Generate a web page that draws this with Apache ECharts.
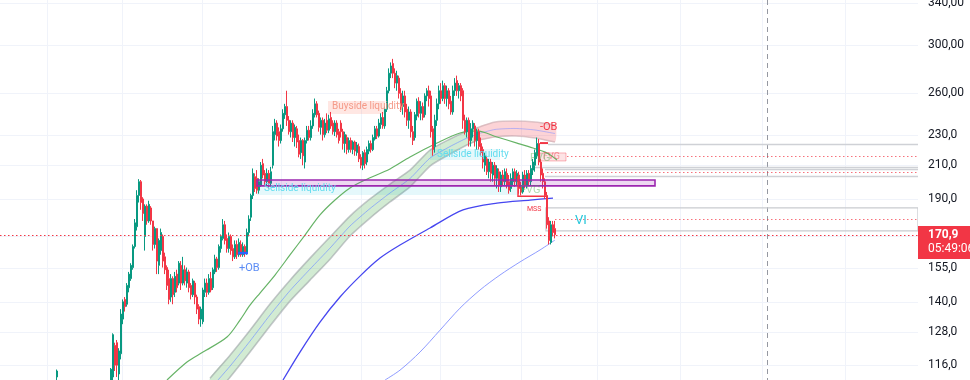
<!DOCTYPE html>
<html><head><meta charset="utf-8">
<script src="https://cdn.jsdelivr.net/npm/echarts@6/dist/echarts.min.js"></script>
<style>html,body{margin:0;padding:0;background:#fff}#c{width:970px;height:380px}</style>
</head><body><div id="c"></div>
<script>
// ---------- DATA ----------
const slots = 459;        // bar slots across the plot
const firstBar = 28;      // slot of the first bar
// [open, close, low, high]
const bars = [
[112,114,110,114.5],
[110,108,106,111],[108,106,104,109],[106,107,104,109],[107,105,103,108],[105,103,101,106],[103,104,101,106],[104,102,100,105],[102,100,98,103],[100,101,98,103],[101,99,97,102],[99,100,97,102],[100,102,99,103],[102,101,99,104],[101,103,100,104],[103,102,100,105],[102,104,101,106],[104,103,101,106],[103,105,102,107],[105,104,102,107],[104,106,103,108],[106,105,103,108],[105,107,104,109],[107,106,104,109],[106,108,105,110],[108,107,105,110],[107,109,106,111],
[111,114.6,110,115],[112,127,110,127.5],[123,116,114,124],[124,116,112,125],[113,121,111,122],[120,135,118,137],[133,140,131,141],[141,138,136,142],[139,147,138,148],[146,152,144,153],
[150,156,149,157],[155,165,154,166],[165,177,164,179],[175,192,173,195],[192,200,188,201.5],[200,188,184,201],[190,182,178,191],[170,186,163,187],[186,178,176,187],[178,187,177,189],
[185,178,176,186],[178,166,163,178],[166,174,164,175],[174,158,152,174],[156,168,152,169],[163,172,161,174],[170,158,155,171],[160,154,152,162],[155,147,145,156],[150,141,139,154],
[142,150,140,152],[150,143,139,151],[144,151,142,153],[152,146,144,154],[148,157,147,158],[156,148,145,158],[148,154,147,160],[154,149,147,156],[148,153,146,155],[153,146,144,154],
[147,143,141,148],[143,149,142,150],[148,142,139,149],[142,137,135,143],[138,133,131,139],[133,137,130,138],[132,145,131,146],[144,148,142,150],[148,144,142,150],[144,150,143,152],
[150,145,144,153],[146,154,145,155],[153,159,152,161],[159,155,153,160],[155,165,154,166],[164,170,162,171],[169,176,168,179],[176,168,166,178],[169,164,162,171],[164,170,162,172],
[170,163,161,171],[164,160,158,166],[160,166,159,168],[166,161,159,168],[161,167,160,169],[166,161,160,168],[161,165,160,167],[165,162,160,166],[162,172,161,174],[172,179,170,181],
[180,192,178,193],[192,205,190,208],[203,196,194,205],[202,195,193,207],[195,200,193,202],[198,210,197,212],[211,204,202,214],[205,200,198,207],[200,205,198,208],[205,199,196,207],
[199,206,197,209],[210,232,208,236],[230,238,226,241],[238,229,226,240],[232,226,222,235],[226,234,224,237],[234,245,232,248],[244,250,241,252],[250,240,236,262],[240,232,230,243],
[232,238,228,240],[238,228,225,240],[228,235,222,237],[234,225,221,236],[226,217,215,230],[218,226,214,228],[226,216,210,227],[212,226,208,228],[226,233,224,236],[233,228,226,236],
[228,236,226,240],[236,245,234,248],[244,252,242,256],[252,244,242,254],[245,235,232,247],[235,240,230,242],[240,230,226,242],[230,238,228,241],[240,233,231,245],[233,241,231,244],
[242,236,234,246],[238,232,230,240],[232,238,229,240],[238,230,228,240],[232,226,224,234],[238,232,228,240],[232,224,220,234],[224,230,218,232],[228,220,217,230],[220,226,218,228],
[226,220,218,228],[220,225,217,226],[225,219,216,226],[218,223,216,225],[222,214,212,224],[215,210,208,217],[210,218,207,219],[218,211,208,220],[212,220,210,222],[219,224,217,226],
[224,220,218,226],[220,228,219,230],[227,234,226,236],[234,229,227,236],[229,238,228,241],[237,242,234,245],[242,236,234,246],[236,248,234,250],[248,262,246,265],[262,276,260,280],
[276,282,272,285],[284,276,272,288],[276,268,264,280],[268,274,262,278],[272,260,256,274],[260,250,246,264],[250,258,244,262],[258,246,242,262],[248,240,236,252],[240,246,234,250],
[246,232,228,248],[232,226,223,236],[228,244,226,246],[243,254,240,256],[254,245,242,257],[245,250,240,254],[250,242,240,253],[244,258,242,260],[258,262,254,264],[262,256,250,266],
[258,232,228,262],[234,220,216,236],[222,240,218,244],[240,252,236,256],[252,262,248,266],[262,256,252,268],[256,266,254,270],[266,256,252,268],[256,262,250,266],[262,252,248,264],
[254,246,244,258],[246,262,244,266],[262,268,258,272],[270,262,258,274],[262,266,256,268],[266,258,254,268],[262,240,234,264],[240,232,230,244],[232,240,228,242],[240,226,222,242],
[226,234,222,238],[234,238,228,240],[236,226,222,238],[226,232,220,234],[232,222,220,234],[224,218,216,228],[220,212,208,222],[210,216,206,218],[214,206,204,216],[206,212,202,214],
[212,205,200,214],[204,210,200,212],[210,202,198,212],[202,208,196,210],[206,198,194,208],[197,204,194,206],[204,200,198,207],[200,206,198,208],[205,198,196,208],[200,195,193,204],
[196,202,194,205],[200,206,198,208],[206,200,197,208],[200,205,198,207],[204,196,193,206],[197,194,192,200],[194,204,193,206],[204,198,196,207],[198,205,196,207],[205,200,198,207],
[200,208,198,210],[207,212,204,214],[210,218,206,220],[216,224,214,228],[224,212,210,227],[212,204,200,214],[205,200,196,208],[200,192,190,202],[192,176,174,194],[178,168,166,180],
[167,176,166,178],[176,172,170,178],[174,170.9,169,178]
];
const lastPrice = 170.9;
const countdown = '05:49:06';

const yTicks = [340,300,260,230,210,190,170,155,140,128,116];
const yTickLabels = ['340,00','300,00','260,00','230,0','210,0','190,0','','155,0','140,0','128,0','116,0'];
const timeGrid = [23.5,61,101,140.5,180.5,220,260.5,298.5,340,381,422.5];

// indicator lines: [slot, price]
const maGreen = [[83.5,111],[93.5,117.1],[101.5,120.6],[113.5,126.1],[120,132.6],[125,138.6],[130,143.7],[137.5,151.6],[145,160.9],[152.5,170.7],[160,181.2],[167.5,189.4],[175,196.3],[182.5,201],[195,207.7],[205,215.2],[218.5,224.3],[230,231.1],[238.5,232.5],[248.5,228.4],[258.5,224.3],[266.5,221],[273.5,217.8],[278.5,213.3]];
const maBlue = [[141.5,111],[150,120.6],[160,131.8],[170,142],[180,151.1],[190,159.4],[200,165.7],[215,174.3],[231.5,183.9],[248.5,187.7],[265,189.4],[276.5,190.5]];
const maLightBlue = [[192.5,111],[200,114.3],[210,120.6],[220,128.7],[230,137.4],[240,145],[250,151.6],[260,157.6],[270,163.3],[277.5,168.2]];

// ribbon (bull part) and -OB (bear part): slot, upper, lower
const ribbonSlot = [105,115,125,135,145,155,165,175,185,195,205,215,225,232.5,239];
const ribbonUp   = [111.6,119.5,128.7,139.1,149.3,159.4,169.7,180.6,190.0,198.6,207.0,219.7,227.0,231.8,234.9];
const ribbonLo   = [104.6,111.9,120.6,130.3,140.3,149.3,158.9,170.2,179.5,188.3,196.9,209.5,217.1,222.4,226.3];
const obSlot = [239,247.5,257.5,267.5,277.5];
const obUp   = [234.9,238.8,239.5,238.8,236.6];
const obLo   = [226.3,228.4,229.1,227.7,225.0];

// zones: [slotFrom, slotTo, priceLow, priceHigh]
const purpleZone = [[128.5,327.5,197.5,201.0]];
const sellsideZones = [[128.5,258.5,192.2,197.5],[215,250,213.3,220.3]];
const buysideZones = [[164,192.5,244.5,254.1]];
const fvgZones = [[270,283,212.7,217.8]];
const viZones = [[273,459,172.8,185.0]];

// levels: [slotFrom, price]
const grayLevels = [[274,223.6],[266.5,208.8],[272.5,207.6],[272.5,203.4]];
const redLevels = [[283.5,215.9],[273.5,205.8],[277.5,179.0]];
const crosshairSlot = 383.5;

// short structure segments
const plusOB = [[119,161.8],[124,161.8]];
const minusOB = [[270,224.3],[274,224.3]];
const mssPath = [[259,203.4],[259,191.6],[273.5,191.6]];

// labels: [slot, price, text]
const redTexts = [[270,234.9,'-OB']];
const blueTexts = [[119.5,154.8,'+OB']];
const mssTexts = [[263.5,184.4,'MSS']];
const viTexts = [[287.5,177.9,'VI']];
const buyTexts = [[166,249.7,'Buyside liquidity']];
const sellTexts = [[132,196.0,'Sellside liquidity'],[218.5,216.5,'Sellside liquidity']];
const fvgPinkTexts = [[271.5,215.2,'FVG']];
const fvgGreenTexts = [[265,214.5,'FVG'],[260,195.1,'FVG']];

// ---------- CHART ----------
const FONT = 'Roboto, "Liberation Sans", sans-serif';
const cats = Array.from({length: slots}, (_, i) => i);
const candleData = Array.from({length: firstBar}, () => '-').concat(bars);

const chart = echarts.init(document.getElementById('c'), null, {renderer: 'canvas'});

function crisp(v) { return Math.round(v) + 0.5; }

function zoneSeries(data, style, z) {
  return {
    type: 'custom', xAxisIndex: 1, yAxisIndex: 0, silent: true, z: z || 3, clip: true,
    data: data,
    renderItem: (p, api) => {
      const a = api.coord([api.value(0), api.value(3)]);
      const b = api.coord([api.value(1), api.value(2)]);
      return {type: 'rect', shape: {x: a[0], y: a[1], width: b[0] - a[0], height: b[1] - a[1]}, style: style};
    }
  };
}
function levelSeries(data, style, z) {
  return {
    type: 'custom', xAxisIndex: 1, yAxisIndex: 0, silent: true, z: z || 3,
    data: data,
    renderItem: (p, api) => {
      const a = api.coord([api.value(0), api.value(1)]);
      const cs = p.coordSys;
      return {type: 'line', shape: {x1: a[0], y1: crisp(a[1]), x2: cs.x + cs.width, y2: crisp(a[1])}, style: style};
    }
  };
}
function textSeries(data, style, z) {
  return {
    type: 'custom', xAxisIndex: 1, yAxisIndex: 0, silent: true, z: z || 6,
    data: data,
    renderItem: (p, api) => {
      const a = api.coord([api.value(0), api.value(1)]);
      return {type: 'text', x: a[0], y: a[1], style: Object.assign({text: data[p.dataIndex][2], verticalAlign: 'middle', textAlign: 'left'}, style)};
    }
  };
}
function pathSeries(pts, style, z) {
  return {
    type: 'custom', xAxisIndex: 1, yAxisIndex: 0, silent: true, z: z || 6,
    data: [0],
    renderItem: (p, api) => ({type: 'polyline', shape: {points: pts.map(q => api.coord(q))}, style: style})
  };
}
function bandSeries(slotsArr, up, lo, fill, edge, mid, z) {
  return {
    type: 'custom', xAxisIndex: 1, yAxisIndex: 0, silent: true, z: z || 2, clip: true,
    data: [0],
    renderItem: (p, api) => {
      const U = slotsArr.map((s, i) => api.coord([s, up[i]]));
      const L = slotsArr.map((s, i) => api.coord([s, lo[i]]));
      const M = U.map((u, i) => [u[0], (u[1] + L[i][1]) / 2]);
      return {type: 'group', children: [
        {type: 'polygon', shape: {points: U.concat(L.slice().reverse()), smooth: 0.2}, style: {fill: fill}},
        {type: 'polyline', shape: {points: U, smooth: 0.2}, style: {stroke: edge, lineWidth: 1.6, fill: null}},
        {type: 'polyline', shape: {points: L, smooth: 0.2}, style: {stroke: edge, lineWidth: 1.6, fill: null}},
        {type: 'polyline', shape: {points: M, smooth: 0.2}, style: {stroke: mid, lineWidth: 1, fill: null}}
      ]};
    }
  };
}

const option = {
  animation: false,
  backgroundColor: '#ffffff',
  grid: {left: 0, right: 52, top: 0, bottom: 0, containLabel: false},
  xAxis: [
    {type: 'category', data: cats, boundaryGap: true, show: false},
    {type: 'value', min: 0, max: slots, show: false}
  ],
  yAxis: [{type: 'log', logBase: 10, min: 111.0, max: 343.0, position: 'right', show: false, scale: true}],
  series: [
    // horizontal grid + tick labels
    {
      type: 'custom', xAxisIndex: 1, yAxisIndex: 0, silent: true, z: 0,
      data: yTicks.map((v, i) => [0, v, i]),
      renderItem: (p, api) => {
        const y = api.coord([0, api.value(1)])[1];
        const cs = p.coordSys;
        return {type: 'group', children: [
          {type: 'line', shape: {x1: cs.x, y1: crisp(y), x2: cs.x + cs.width, y2: crisp(y)}, style: {stroke: '#f0f3fa', lineWidth: 1}},
          {type: 'text', x: cs.x + cs.width + 10, y: y, style: {text: yTickLabels[api.value(2)], fill: '#131722', font: '12px ' + FONT, verticalAlign: 'middle', textAlign: 'left'}}
        ]};
      }
    },
    // vertical grid
    {
      type: 'custom', xAxisIndex: 1, yAxisIndex: 0, silent: true, z: 0,
      data: timeGrid.map(v => [v, 200]),
      renderItem: (p, api) => {
        const x = api.coord([api.value(0), 200])[0];
        const cs = p.coordSys;
        return {type: 'line', shape: {x1: crisp(x), y1: cs.y, x2: crisp(x), y2: cs.y + cs.height}, style: {stroke: '#f0f3fa', lineWidth: 1}};
      }
    },
    // crosshair
    {
      type: 'custom', xAxisIndex: 1, yAxisIndex: 0, silent: true, z: 1,
      data: [[crosshairSlot, 200]],
      renderItem: (p, api) => {
        const x = api.coord([api.value(0), 200])[0];
        const cs = p.coordSys;
        return {type: 'line', shape: {x1: crisp(x), y1: cs.y, x2: crisp(x), y2: cs.y + cs.height}, style: {stroke: '#9598a1', lineWidth: 1, lineDash: [5, 4]}};
      }
    },
    bandSeries(ribbonSlot, ribbonUp, ribbonLo, 'rgba(76,175,80,0.25)', 'rgba(150,155,160,0.55)', 'rgba(120,150,255,0.7)', 2),
    bandSeries(obSlot, obUp, obLo, 'rgba(242,54,69,0.22)', 'rgba(200,170,175,0.6)', 'rgba(140,150,255,0.6)', 2),
    zoneSeries(sellsideZones, {fill: 'rgba(0,188,212,0.10)'}, 2),
    zoneSeries(buysideZones, {fill: 'rgba(255,120,100,0.18)'}, 2),
    zoneSeries(fvgZones, {fill: 'rgba(242,54,69,0.14)', stroke: 'rgba(242,54,69,0.35)', lineWidth: 1}, 3),
    zoneSeries(viZones, {fill: 'none', stroke: '#c9cbd0', lineWidth: 1.3}, 3),
    levelSeries(grayLevels, {stroke: '#cfd1d6', lineWidth: 1.3}, 3),
    levelSeries(redLevels, {stroke: 'rgba(242,54,69,0.7)', lineWidth: 1, lineDash: [1.5, 2.5]}, 3),
    {type: 'line', xAxisIndex: 1, yAxisIndex: 0, data: maGreen, smooth: 0.3, showSymbol: false, symbol: 'none', silent: true, z: 3, lineStyle: {color: '#66b366', width: 1.2}},
    {type: 'line', xAxisIndex: 1, yAxisIndex: 0, data: maBlue, smooth: 0.3, showSymbol: false, symbol: 'none', silent: true, z: 3, lineStyle: {color: '#4646f0', width: 1.3}},
    {type: 'line', xAxisIndex: 1, yAxisIndex: 0, data: maLightBlue, smooth: 0.3, showSymbol: false, symbol: 'none', silent: true, z: 3, lineStyle: {color: '#8f9cff', width: 1}},
    {
      type: 'candlestick', xAxisIndex: 0, yAxisIndex: 0, data: candleData, barWidth: 1.4, clip: true, silent: true, z: 4,
      itemStyle: {color: '#089981', color0: '#f23645', borderColor: '#089981', borderColor0: '#f23645', borderWidth: 1}
    },
    zoneSeries(purpleZone, {fill: 'rgba(156,39,176,0.18)', stroke: '#9c27b0', lineWidth: 1.6}, 5),
    pathSeries(plusOB, {stroke: '#2962ff', lineWidth: 2.5, fill: null}, 6),
    pathSeries(minusOB, {stroke: '#f23645', lineWidth: 2, fill: null}, 6),
    pathSeries(mssPath, {stroke: '#f23645', lineWidth: 1.5, fill: null}, 6),
    textSeries(redTexts, {fill: '#f23645', font: '11px ' + FONT}),
    textSeries(blueTexts, {fill: '#5b8cf5', font: '11px ' + FONT}),
    textSeries(mssTexts, {fill: '#f23645', font: '7px ' + FONT}),
    textSeries(viTexts, {fill: '#26c6da', font: '13px ' + FONT}),
    textSeries(buyTexts, {fill: '#f59a88', font: '10px ' + FONT}),
    textSeries(sellTexts, {fill: '#63dcef', font: '10px ' + FONT}),
    textSeries(fvgPinkTexts, {fill: 'rgba(242,54,69,0.5)', font: '9px ' + FONT}),
    textSeries(fvgGreenTexts, {fill: 'rgba(76,175,80,0.45)', font: '11px ' + FONT}),
    // last price line + label
    {
      type: 'custom', xAxisIndex: 1, yAxisIndex: 0, silent: true, z: 10,
      data: [[0, lastPrice]],
      renderItem: (p, api) => {
        const y = api.coord([0, api.value(1)])[1];
        const cs = p.coordSys;
        const rx = cs.x + cs.width;
        return {type: 'group', children: [
          {type: 'line', shape: {x1: cs.x, y1: crisp(y), x2: rx, y2: crisp(y)}, style: {stroke: '#f23645', lineWidth: 1, lineDash: [1.5, 2.5]}},
          {type: 'rect', shape: {x: rx, y: Math.round(y) - 9, width: 60, height: 33}, style: {fill: '#f23645'}},
          {type: 'text', x: rx + 10, y: y, style: {text: String(lastPrice).replace('.', ','), fill: '#ffffff', font: 'bold 12px ' + FONT, verticalAlign: 'middle'}},
          {type: 'text', x: rx + 10, y: y + 14, style: {text: countdown, fill: '#ffffff', font: '12px ' + FONT, verticalAlign: 'middle'}}
        ]};
      }
    }
  ]
};
chart.setOption(option);
</script></body></html>
